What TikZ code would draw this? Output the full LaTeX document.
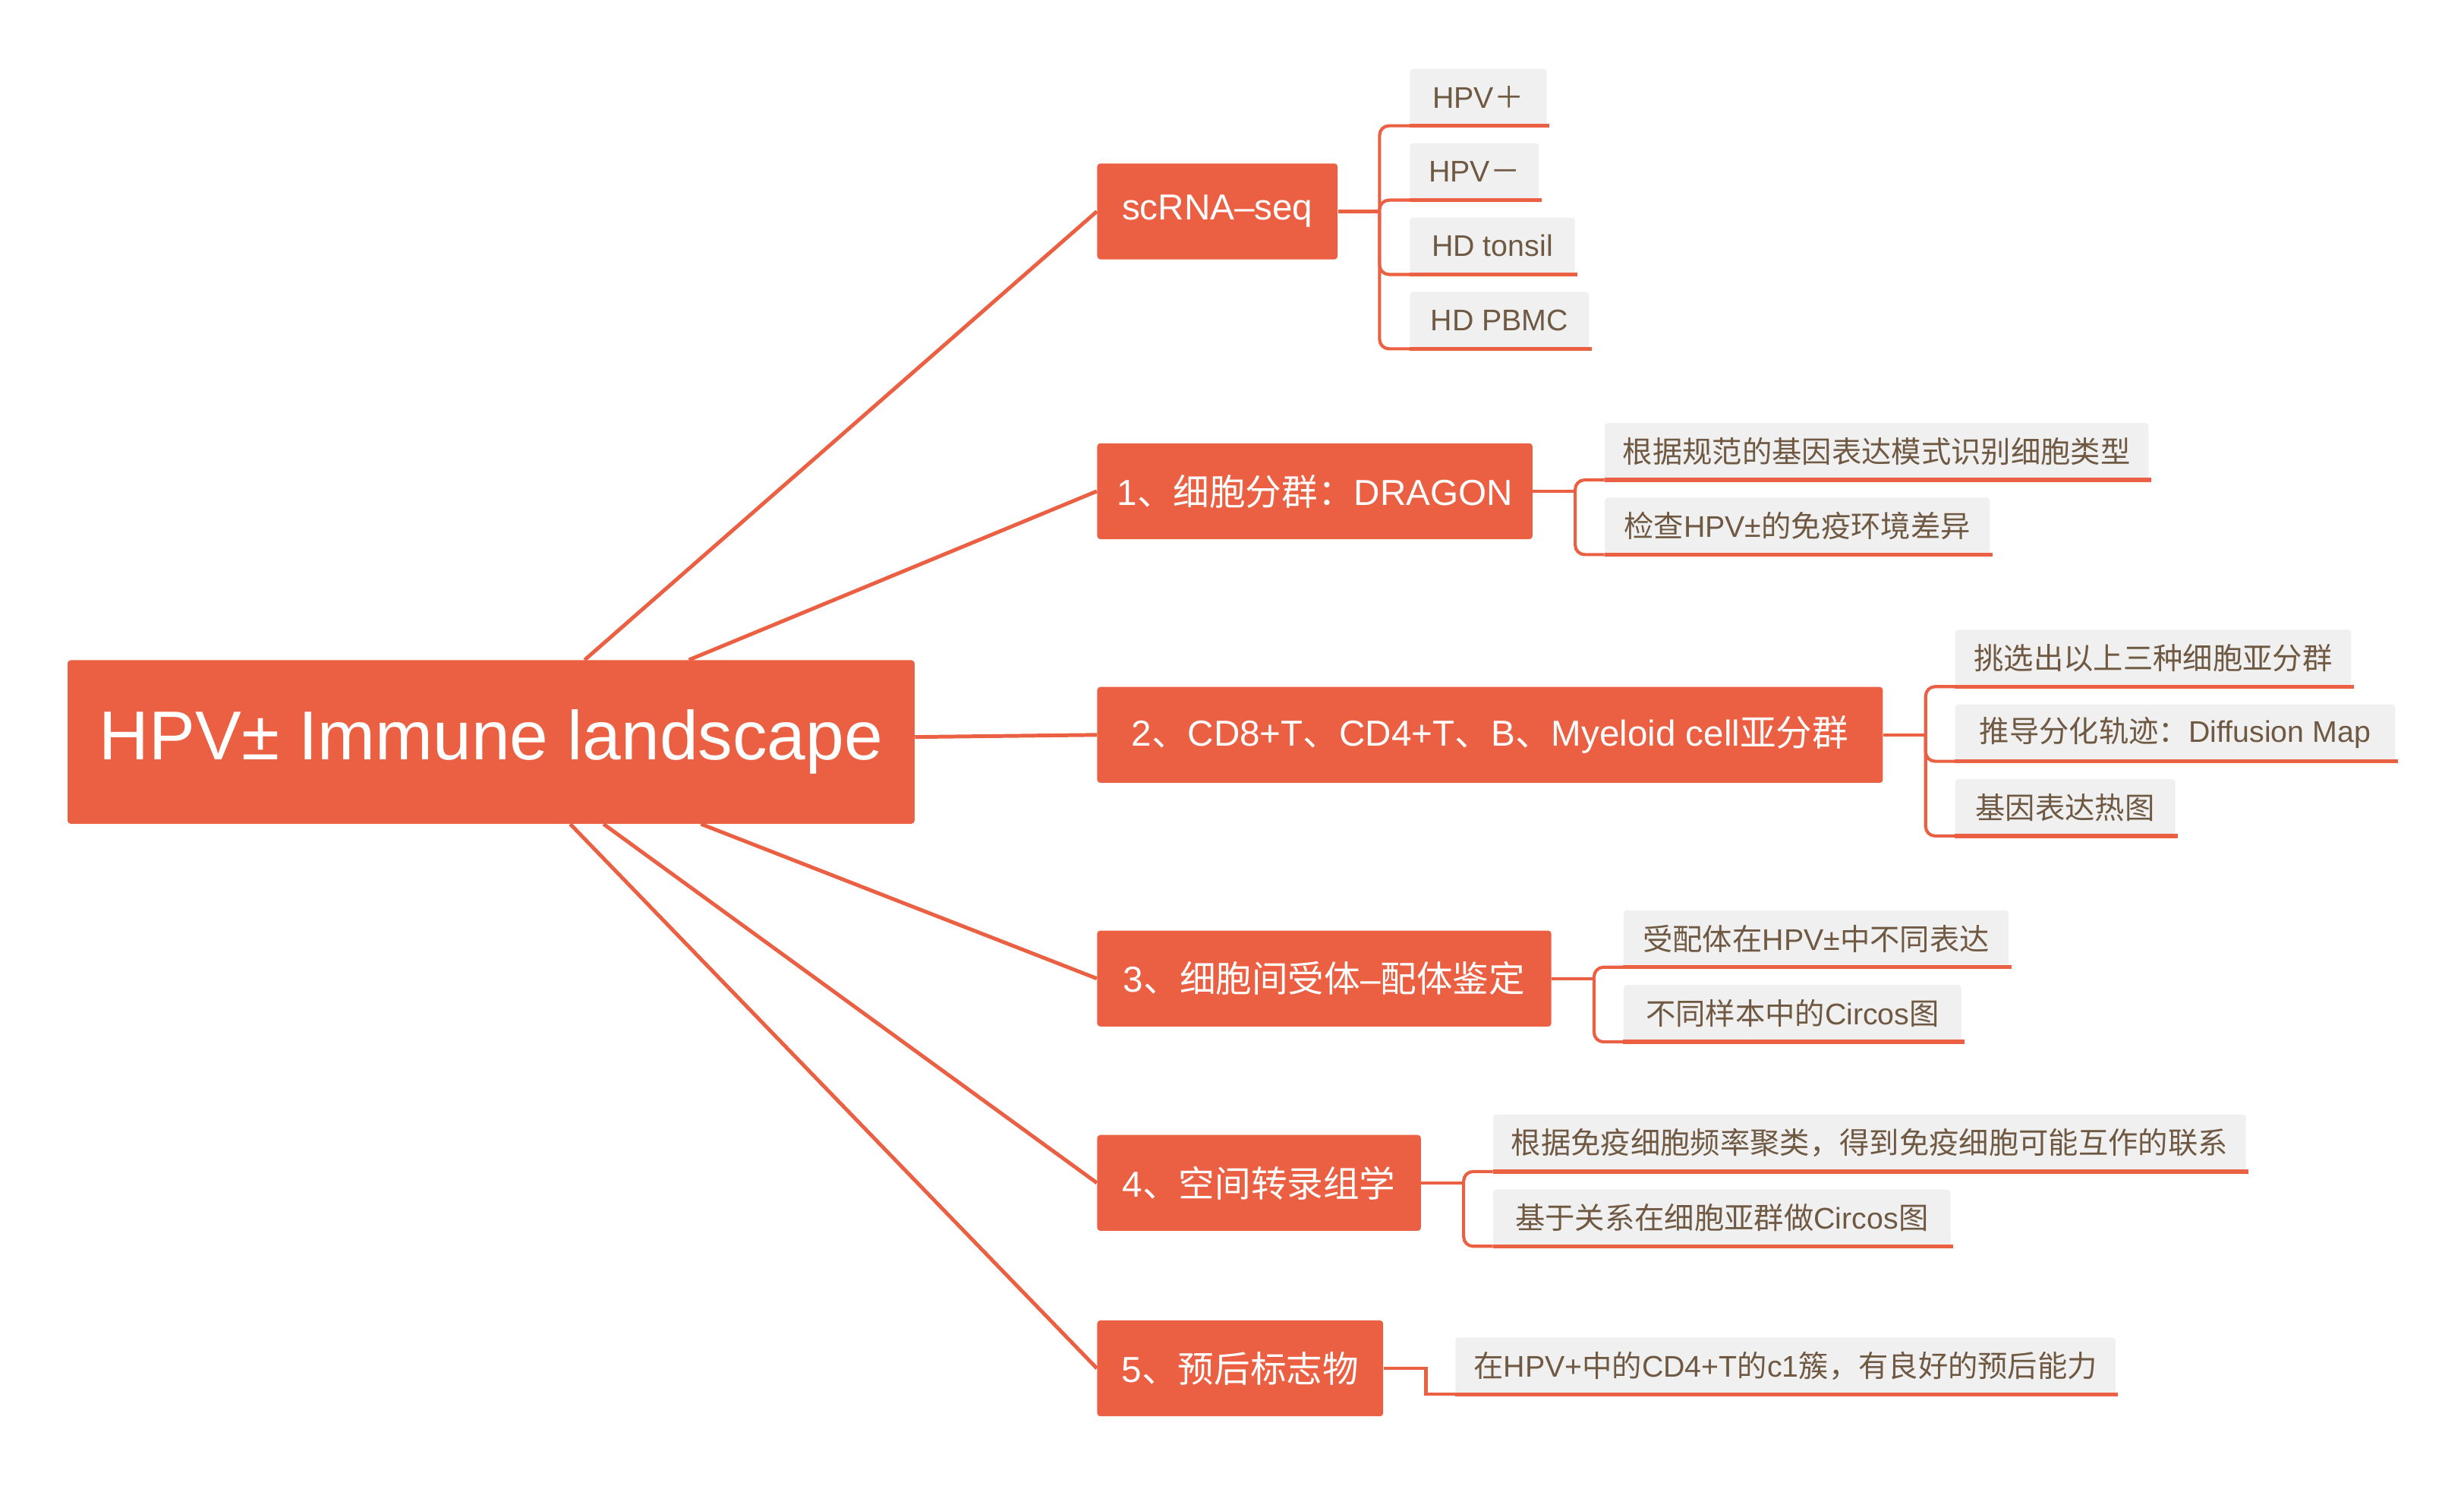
\documentclass[tikz,border=0pt]{standalone}
\usepackage{fontspec}
\setmainfont{Liberation Sans}
\newfontfamily\zhfont{Noto Sans CJK SC}
\newcommand\zh[1]{{\zhfont #1}}
\definecolor{xorange}{HTML}{EB5F42}
\definecolor{xgray}{HTML}{F0F0F0}
\definecolor{xbrown}{HTML}{6F5943}
\begin{document}
\begin{tikzpicture}[x=1pt,y=-1pt,
  root/.style={fill=xorange, text=white, rounded corners=2pt, minimum width=539pt, minimum height=104pt, inner sep=0pt, font=\fontsize{44}{48}\selectfont},
  topic/.style={fill=xorange, text=white, rounded corners=2pt, minimum height=61pt, inner sep=0pt, anchor=west, font=\fontsize{23}{26}\selectfont},
  sub/.style={fill=xgray, text=xbrown, rounded corners=2pt, minimum height=36pt, inner sep=0pt, anchor=south west, font=\fontsize{19}{22}\selectfont},
  link/.style={draw=xorange, line width=2.4pt},
  stem/.style={draw=xorange, line width=2pt},
  brace/.style={draw=xorange, line width=2pt, rounded corners=6pt},
  uline/.style={draw=xorange, line width=2.6pt}]
\useasboundingbox (0,0) rectangle (1568,945);

% root and topics
\node[root] (root) at (312.5,472) {HPV± Immune landscape};
\node[topic, minimum width=153pt] (t0) at (698,134.5) {scRNA–seq};
\node[topic, minimum width=277pt] (t1) at (698,312.5) {1\zh{、细胞分群：}DRAGON};
\node[topic, minimum width=500pt] (t2) at (698,467.5) {2\zh{、}CD8+T\zh{、}CD4+T\zh{、}B\zh{、}Myeloid cell\zh{亚分群}};
\node[topic, minimum width=289pt] (t3) at (698,622.5) {3\zh{、细胞间受体}–\zh{配体鉴定}};
\node[topic, minimum width=206pt] (t4) at (698,752.5) {4\zh{、空间转录组学}};
\node[topic, minimum width=182pt] (t5) at (698,870.5) {5\zh{、预后标志物}};

\foreach \t in {t0,t1,t2,t3,t4,t5}{\draw[link] (root) -- (\t.west);}

% scRNA-seq children
\node[sub, minimum width=87pt]  (c00) at (897,80)  {HPV\zh{＋}};
\node[sub, minimum width=82pt]  (c01) at (897,127.3) {HPV\zh{－}};
\node[sub, minimum width=105pt] (c02) at (897,174.6) {HD tonsil};
\node[sub, minimum width=114pt] (c03) at (897,221.9) {HD PBMC};
% DRAGON children
\node[sub, minimum width=346pt] (c10) at (1021,305.3) {\zh{根据规范的基因表达模式识别细胞类型}};
\node[sub, minimum width=245pt] (c11) at (1021,352.8) {\zh{检查}HPV±\zh{的免疫环境差异}};
% topic 2 children
\node[sub, minimum width=252pt] (c20) at (1244,436.8) {\zh{挑选出以上三种细胞亚分群}};
\node[sub, minimum width=280pt] (c21) at (1244,484.3) {\zh{推导分化轨迹：}Diffusion Map};
\node[sub, minimum width=140pt] (c22) at (1244,531.8) {\zh{基因表达热图}};
% topic 3 children
\node[sub, minimum width=245pt] (c30) at (1033,615.3) {\zh{受配体在}HPV±\zh{中不同表达}};
\node[sub, minimum width=215pt] (c31) at (1033,662.8) {\zh{不同样本中的}Circos\zh{图}};
% topic 4 children
\node[sub, minimum width=479pt] (c40) at (950,745.3) {\zh{根据免疫细胞频率聚类，得到免疫细胞可能互作的联系}};
\node[sub, minimum width=291pt] (c41) at (950,792.8) {\zh{基于关系在细胞亚群做}Circos\zh{图}};
% topic 5 child
\node[sub, minimum width=420pt] (c50) at (926,887) {\zh{在}HPV+\zh{中的}CD4+T\zh{的}c1\zh{簇，有良好的预后能力}};

% brackets
\coordinate (j0) at ([xshift=26.5pt]t0.east);
\coordinate (j1) at ([xshift=27pt]t1.east);
\coordinate (j2) at ([xshift=27pt]t2.east);
\coordinate (j3) at ([xshift=27pt]t3.east);
\coordinate (j4) at ([xshift=27pt]t4.east);
\coordinate (j5) at ([xshift=27pt]t5.east);
\foreach \t/\j in {t0/j0,t1/j1,t2/j2,t3/j3,t4/j4}{\draw[stem] (\t.east) -- (\j);}
\foreach \j/\c in {j0/c00,j0/c01,j0/c02,j0/c03,j1/c10,j1/c11,j2/c20,j2/c21,j2/c22,j3/c30,j3/c31,j4/c40,j4/c41}{
  \draw[brace] (\j) |- (\c.south west);}
\draw[stem] (t5.east) -- (j5) |- (c50.south west);

% underlines
\foreach \c in {c00,c01,c02,c03,c10,c11,c20,c21,c22,c30,c31,c40,c41,c50}{
  \draw[uline] (\c.south west) -- ([xshift=1.5pt]\c.south east);}
\end{tikzpicture}
\end{document}
